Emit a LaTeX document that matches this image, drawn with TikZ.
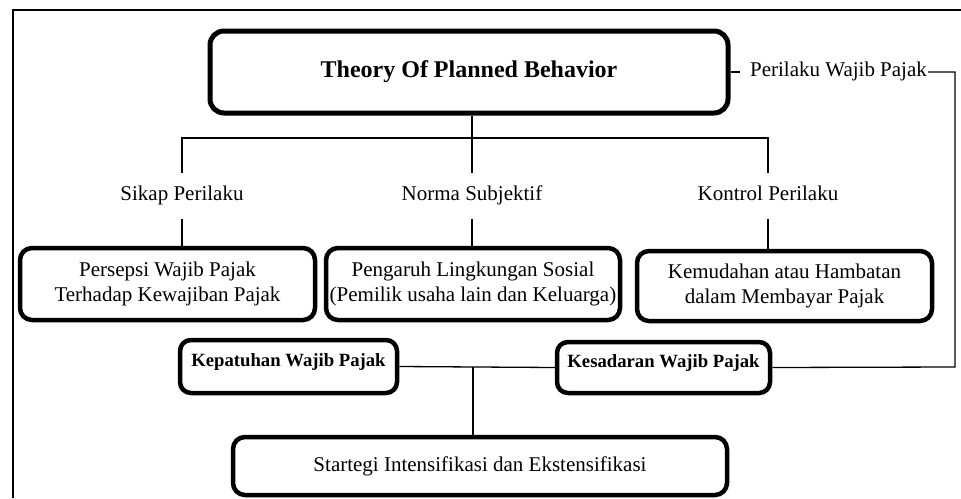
\documentclass[tikz,border=0pt]{standalone}
\usepackage{fontspec}
\setmainfont{Liberation Serif}
\usepackage{tikz}

\begin{document}
\begin{tikzpicture}[
        x=1pt,y=-1pt,
        box/.style={rectangle,draw,line width=4.5pt,rounded corners=12pt,align=center,font=\fontsize{21}{25}\selectfont,inner sep=0pt},
        titlebox/.style={box,rounded corners=14pt,line width=5pt,font=\fontsize{24}{28}\selectfont\bfseries},
        keybox/.style={box,rounded corners=11pt,font=\fontsize{18.7}{22}\selectfont\bfseries,text height=13pt,text depth=13pt},
        lbl/.style={font=\fontsize{21}{25}\selectfont,inner xsep=1pt,inner ysep=13pt,text height=14pt,text depth=5pt},
        link/.style={line width=1.3pt}]
        \useasboundingbox (0,0) rectangle (961,498);
        % frame
        \draw[line width=2pt] (13,498) -- (13,10) -- (961,10);
        \node[titlebox,minimum width=518pt,minimum height=82pt] (title) at (469,72) {Theory Of Planned Behavior};
        \node[lbl,inner ysep=2pt] (perilaku) at (838.5,72) {Perilaku Wajib Pajak};
        \node[lbl] (sikap) at (182,196) {Sikap Perilaku};
        \node[lbl] (norma) at (472,196) {Norma Subjektif};
        \node[lbl] (kontrol) at (768,196) {Kontrol Perilaku};
        \node[box,minimum width=295pt,minimum height=72pt] (persepsi) at (167.5,284) {Persepsi Wajib Pajak\\ Terhadap Kewajiban Pajak};
        \node[box,minimum width=294pt,minimum height=72pt] (pengaruh) at (473,284) {Pengaruh Lingkungan Sosial\\ (Pemilik usaha lain dan Keluarga)};
        \node[box,minimum width=295pt,minimum height=70pt] (kemudahan) at (784.5,286) {Kemudahan atau Hambatan\\ dalam Membayar Pajak};
        \node[keybox,minimum width=217pt,minimum height=53pt] (kepatuhan) at (288.5,366.5) {Kepatuhan Wajib Pajak};
        \node[keybox,minimum width=213pt,minimum height=51pt] (kesadaran) at (663.5,367.5) {Kesadaran Wajib Pajak};
        \node[box,minimum width=494pt,minimum height=58pt] (strategi) at (480,466) {Startegi Intensifikasi dan Ekstensifikasi};
        \coordinate (hub) at (472,138);
        \coordinate (mid) at (473,367);
        \coordinate (turn) at (955,367);
        % tree
        \draw[link] (title.south -| hub) -- (hub);
        \draw[link] (sikap.north) |- (hub) -| (kontrol.north);
        \draw[link] (hub) -- (norma.north);
        \draw[link] (sikap.south) -- (sikap.south |- persepsi.north);
        \draw[link] (norma.south) -- (norma.south |- pengaruh.north);
        \draw[link] (kontrol.south) -- (kontrol.south |- kemudahan.north);
        % behaviour loop
        \draw[link] (title.east) -- ([xshift=-9pt]perilaku.west);
        \draw[link] (perilaku.east) -| (turn) -- (kesadaran.east);
        \draw[link] (kepatuhan.east) -- (kesadaran.west);
        \draw[link] (mid) -- (mid |- strategi.north);
    \end{tikzpicture}
\end{document}
